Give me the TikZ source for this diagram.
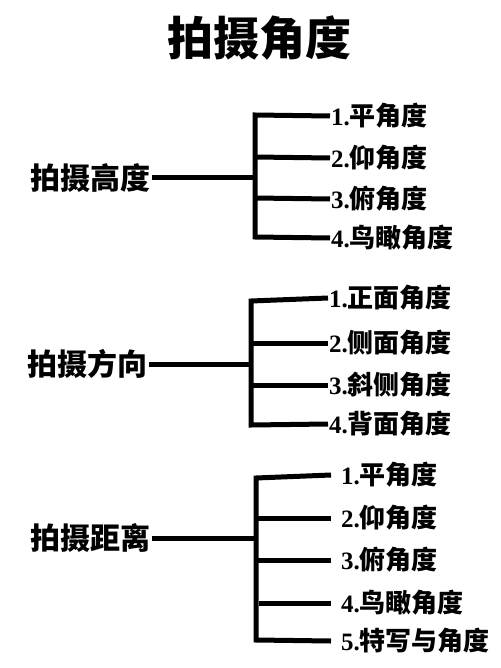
\documentclass[tikz,border=0pt]{standalone}
\usepackage{fontspec}
\setmainfont{Liberation Serif}
\newfontfamily\cjk{Noto Sans CJK SC}
\newcommand{\itm}[2]{{\bfseries\fontsize{25}{27}\selectfont #1.}{\cjk\bfseries #2}}
\begin{document}
\begin{tikzpicture}[x=1pt,y=-1pt,
  bar/.style={line width=5pt, line join=miter},
  itemtxt/.style={font=\fontsize{26}{28}\selectfont, anchor=west, inner xsep=1pt, inner ysep=0pt},
  itemfar/.style={itemtxt, inner xsep=10pt},
  grouptxt/.style={font=\cjk\bfseries\fontsize{30}{32}\selectfont, anchor=east, inner sep=1pt},
  titletxt/.style={font=\cjk\bfseries\fontsize{46}{48}\selectfont, inner sep=0pt}]
\useasboundingbox (0,0) rectangle (500,668);
\fill[white] (0,0) rectangle (500,668);

\node[titletxt] (title) at (259,38) {拍摄角度};

% group 1
\node[grouptxt] (g1) at (152,178) {拍摄高度};
\coordinate (t1) at (255,115);
\coordinate (b1) at (255,237);
\coordinate (m1) at (255,178);
\coordinate (v12) at (255,157);
\coordinate (v13) at (255,198);
\node[itemtxt] (a1) at (330,116) {\itm{1}{平角度}};
\node[itemtxt] (a2) at (330,158) {\itm{2}{仰角度}};
\node[itemtxt] (a3) at (330,199) {\itm{3}{俯角度}};
\node[itemtxt] (a4) at (330,238) {\itm{4}{鸟瞰角度}};
\draw[bar] (a1.west) -- (t1) -- (b1) -- (a4.west);
\draw[bar] (g1.east) -- (m1);
\draw[bar] (v12) -- (a2.west);
\draw[bar] (v13) -- (a3.west);

% group 2
\node[grouptxt] (g2) at (149,364) {拍摄方向};
\coordinate (t2) at (251,301);
\coordinate (b2) at (251,425);
\coordinate (m2) at (251,364);
\coordinate (v22) at (251,343);
\coordinate (v23) at (251,385);
\node[itemtxt] (c1) at (328,298) {\itm{1}{正面角度}};
\node[itemtxt] (c2) at (328,343) {\itm{2}{侧面角度}};
\node[itemtxt] (c3) at (328,385) {\itm{3}{斜侧角度}};
\node[itemtxt] (c4) at (328,424) {\itm{4}{背面角度}};
\draw[bar] (c1.west) -- (t2) -- (b2) -- (c4.west);
\draw[bar] (g2.east) -- (m2);
\draw[bar] (v22) -- (c2.west);
\draw[bar] (v23) -- (c3.west);

% group 3
\node[grouptxt] (g3) at (152,538) {拍摄距离};
\coordinate (t3) at (256,478);
\coordinate (b3) at (256,640);
\coordinate (m3) at (256,538);
\coordinate (v32) at (256,518);
\coordinate (v33) at (256,560);
\coordinate (v34) at (259,603);
\node[itemfar] (d1) at (331,475) {\itm{1}{平角度}};
\node[itemfar] (d2) at (331,518) {\itm{2}{仰角度}};
\node[itemfar] (d3) at (331,560) {\itm{3}{俯角度}};
\node[itemfar] (d4) at (331,603) {\itm{4}{鸟瞰角度}};
\node[itemfar] (d5) at (331,641) {\itm{5}{特写与角度}};
\draw[bar] (d1.west) -- (t3) -- (b3) -- (d5.west);
\draw[bar] (g3.east) -- (m3);
\draw[bar] (v32) -- (d2.west);
\draw[bar] (v33) -- (d3.west);
\draw[bar] (v34) -- (d4.west);
\end{tikzpicture}
\end{document}
